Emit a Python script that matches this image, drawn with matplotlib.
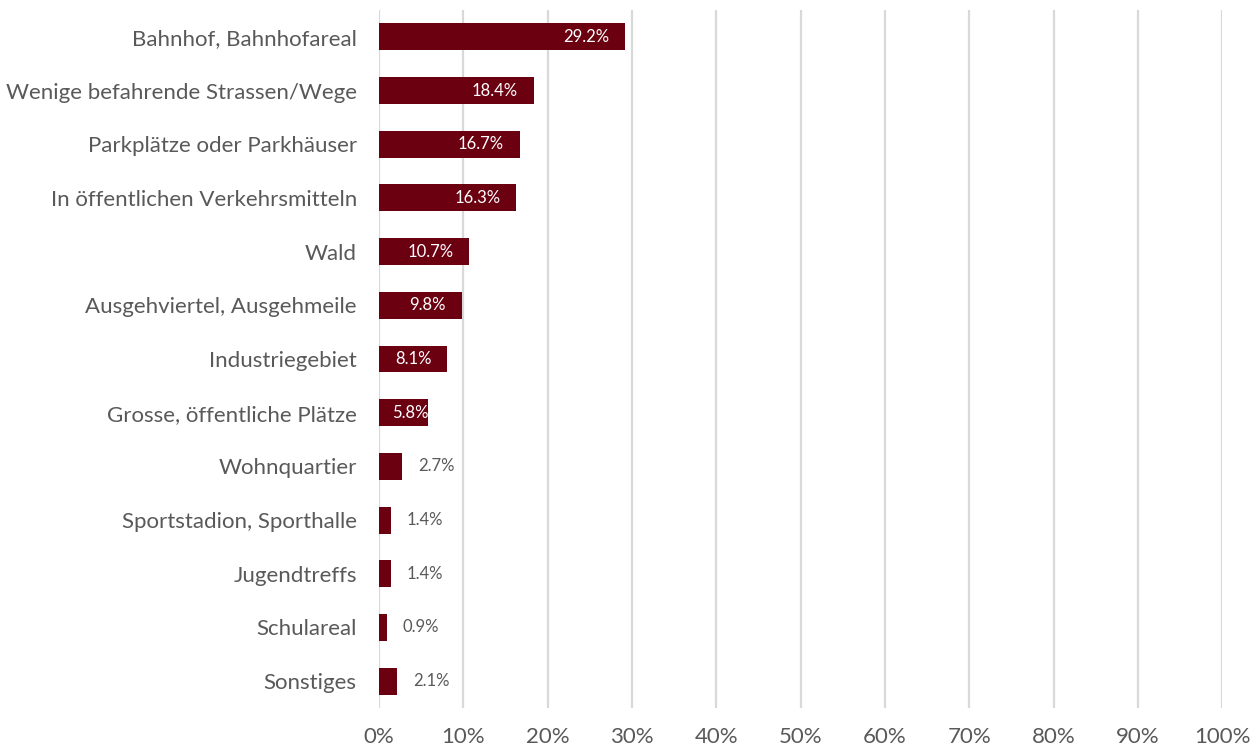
import matplotlib
matplotlib.use("Agg")
import matplotlib.pyplot as plt
from matplotlib.ticker import PercentFormatter

# data (top to bottom)
categories = [
    "Bahnhof, Bahnhofareal",
    "Wenige befahrende Strassen/Wege",
    "Parkplätze oder Parkhäuser",
    "In öffentlichen Verkehrsmitteln",
    "Wald",
    "Ausgehviertel, Ausgehmeile",
    "Industriegebiet",
    "Grosse, öffentliche Plätze",
    "Wohnquartier",
    "Sportstadion, Sporthalle",
    "Jugendtreffs",
    "Schulareal",
    "Sonstiges",
]
values = [29.2, 18.4, 16.7, 16.3, 10.7, 9.8, 8.1, 5.8, 2.7, 1.4, 1.4, 0.9, 2.1]
ticks = list(range(0, 101, 10))

plt.rcParams['font.family'] = ['Lato', 'DejaVu Sans']

bar_color = "#6B0011"
text_gray = "#595959"

fig = plt.figure(figsize=(12.55, 7.49), dpi=100)
ax = fig.add_axes([0.302, 0.0547, 0.672, 0.932])

ypos = list(range(len(categories)))
ax.barh(ypos, values, height=0.5, color=bar_color, zorder=3)

for y, v in zip(ypos, values):
    if v >= 5:
        # inside end; short bars let the label spill over the end
        ax.text(max(v - 1.9, 5.9), y, f"{v:.1f}%", ha='right', va='center',
                color='white', fontsize=12, zorder=4)
    else:
        ax.text(v + 1.9, y, f"{v:.1f}%", ha='left', va='center',
                color=text_gray, fontsize=12, zorder=4)

ax.set_ylim(len(categories) - 0.5, -0.5)
ax.set_yticks(ypos)
ax.set_yticklabels(categories, fontsize=16, color=text_gray)
ax.set_xlim(0, 100)
ax.set_xticks(ticks)
ax.xaxis.set_major_formatter(PercentFormatter(decimals=0))
ax.tick_params(axis='x', labelsize=16, colors=text_gray, length=0, pad=14)
ax.tick_params(axis='y', length=0, pad=16)
ax.grid(axis='x', color="#D9D9D9", linewidth=1.6, zorder=0)
for s in ax.spines.values():
    s.set_visible(False)

fig.savefig("out.png", dpi=100)
